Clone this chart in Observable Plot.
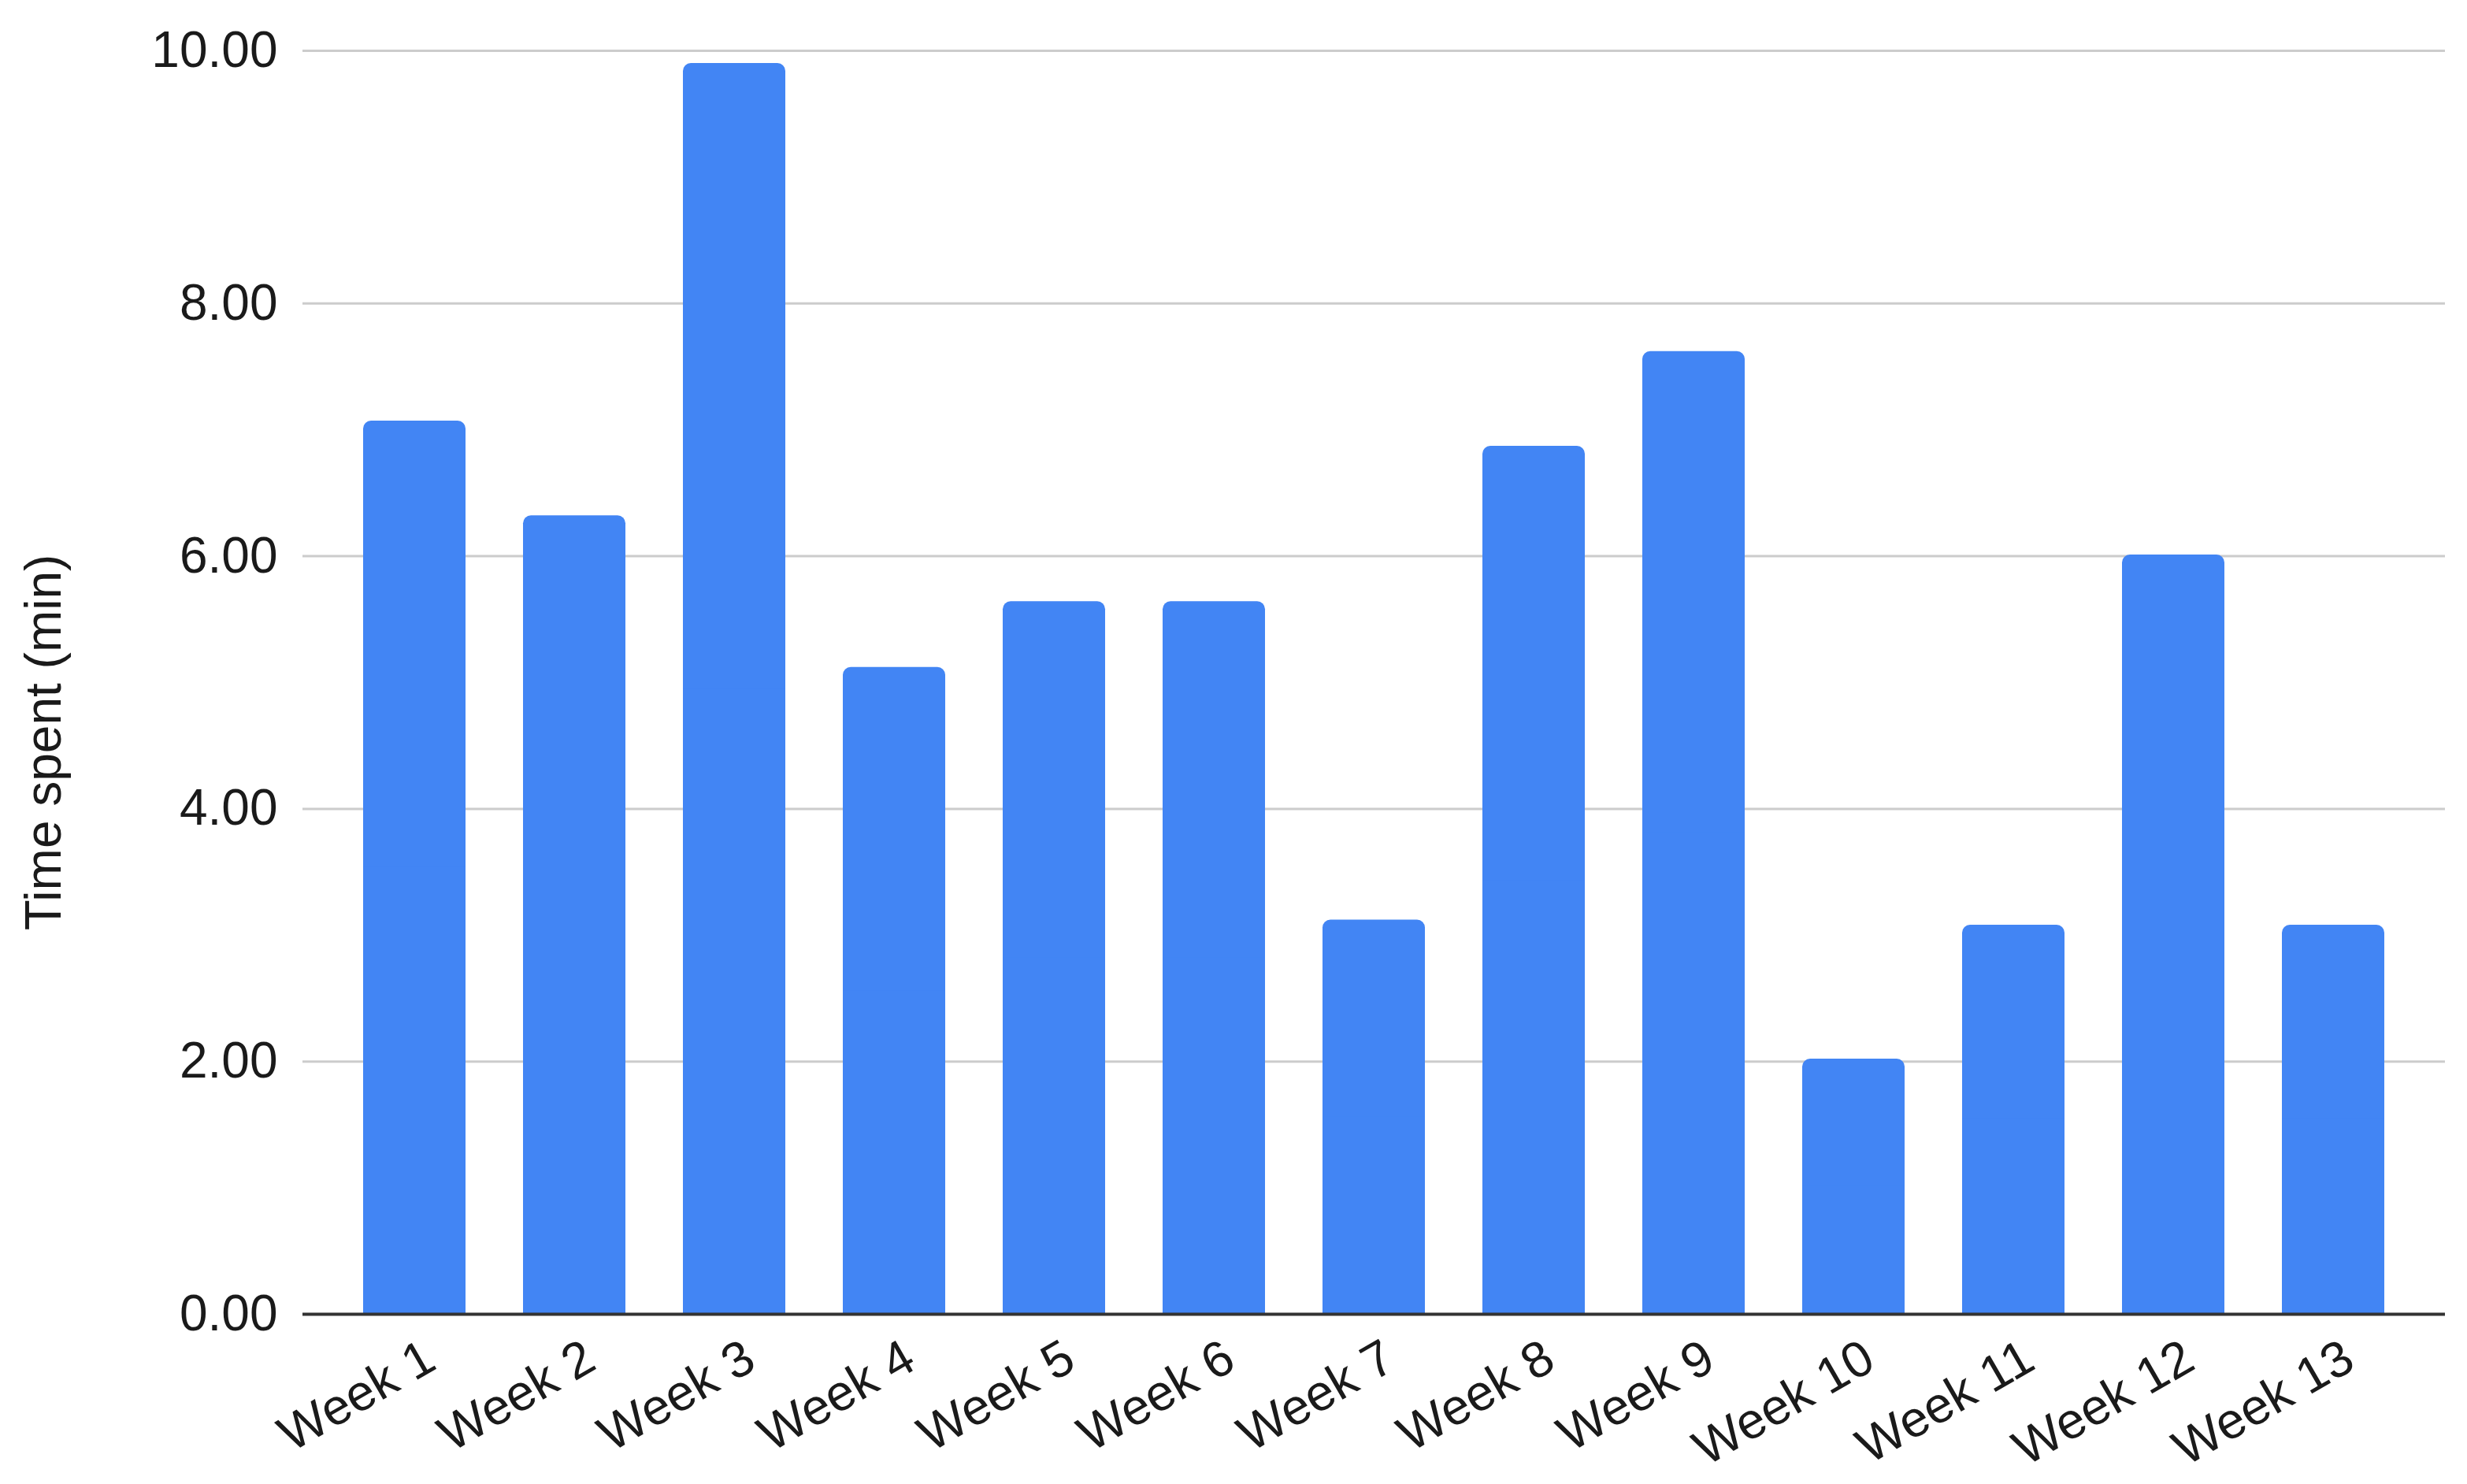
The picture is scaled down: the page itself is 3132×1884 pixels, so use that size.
<!DOCTYPE html>
<html>
<head>
<meta charset="utf-8">
<script src="https://cdn.jsdelivr.net/npm/d3@7"></script>
<script src="https://cdn.jsdelivr.net/npm/@observablehq/plot@0.6"></script>
<style>
  html, body { margin: 0; padding: 0; background: #fff; }
  #chart svg { display: block; }
</style>
</head>
<body>
<div id="chart"></div>
<script>
const weeks = ["Week 1","Week 2","Week 3","Week 4","Week 5","Week 6","Week 7","Week 8","Week 9","Week 10","Week 11","Week 12","Week 13"];
const minutes = [7.07, 6.32, 9.90, 5.12, 5.64, 5.64, 3.12, 6.87, 7.62, 2.02, 3.08, 6.01, 3.08];
const yTicks = [0, 2, 4, 6, 8, 10];
const yLabel = "Time spent (min)";

const data = weeks.map((w, i) => ({week: w, value: minutes[i]}));

const chart = Plot.plot({
  width: 3132,
  height: 1884,
  marginLeft: 384,
  marginRight: 28,
  marginTop: 64,
  marginBottom: 216,
  style: {fontFamily: "'Liberation Sans', Arial, sans-serif", fontSize: "64px", color: "#1a1a1a", background: "#fff"},
  x: {domain: weeks, padding: 0.36, label: null},
  y: {domain: [0, 10], label: null},
  marks: [
    Plot.ruleY(yTicks.filter(d => d > 0), {stroke: "#cccccc", strokeWidth: 3}),
    // rounded bars (top corners visible)
    Plot.barY(data, {x: "week", y: "value", fill: "#4285f4", rx: 10}),
    // square lower half covers the rounded bottom corners
    Plot.barY(data, {x: "week", y1: 0, y2: d => d.value / 2, fill: "#4285f4"}),
    Plot.ruleY([0], {stroke: "#333333", strokeWidth: 4}),
    Plot.axisY({ticks: yTicks, tickSize: 0, tickPadding: 32, tickFormat: d => d.toFixed(2), fontSize: 64, label: null}),
    Plot.axisX({tickSize: 0, tickRotate: -30, tickPadding: 50, dx: 20, fontSize: 64, label: null}),
    Plot.text([yLabel], {frameAnchor: "left", textAnchor: "middle", dx: -328, dy: 76, rotate: -90, fontSize: 64, fill: "#1a1a1a"})
  ]
});
document.getElementById("chart").appendChild(chart);
</script>
</body>
</html>
